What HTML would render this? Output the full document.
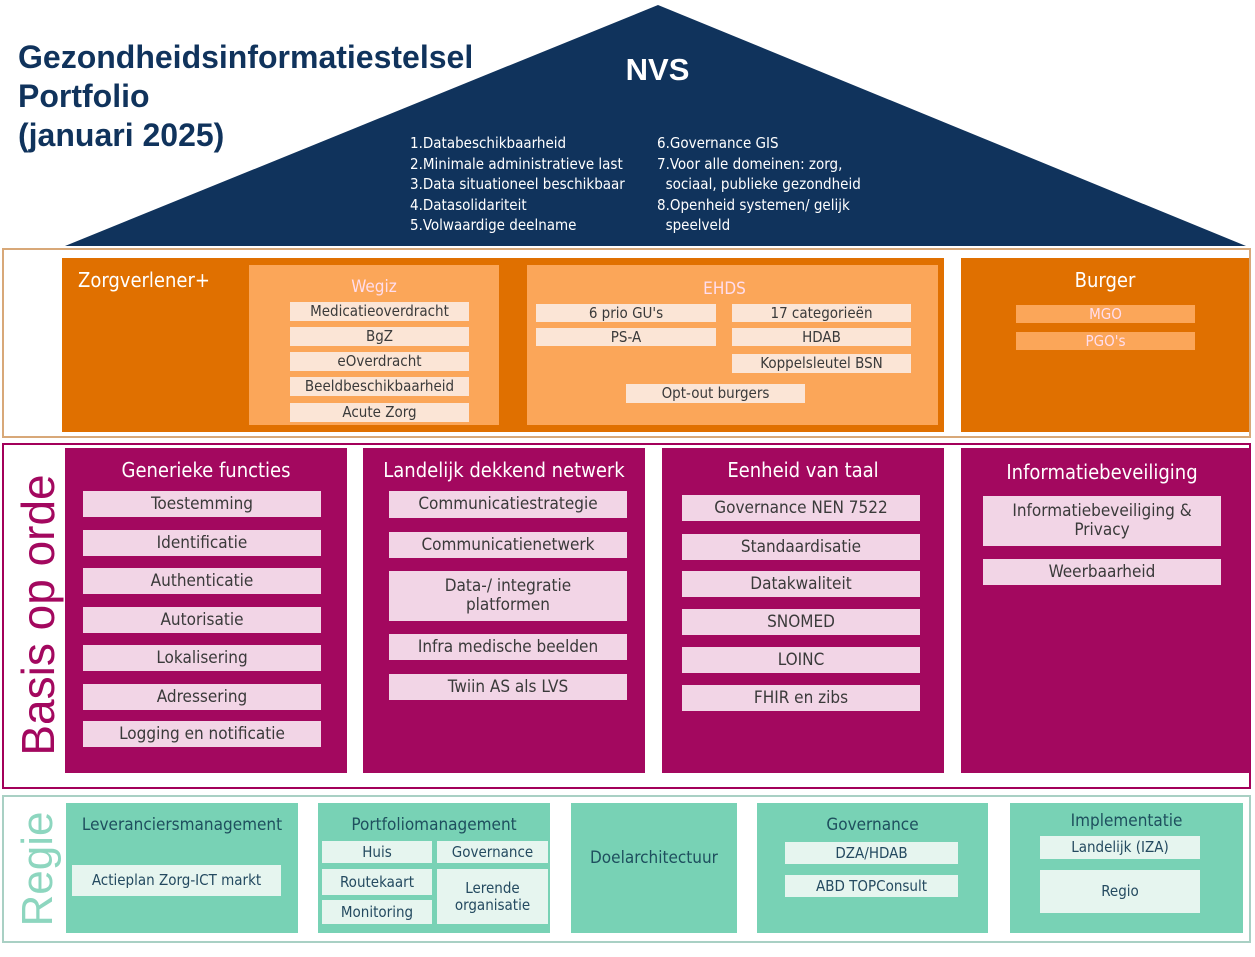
<!DOCTYPE html>
<html><head><meta charset="utf-8"><style>
body{margin:0;width:1255px;height:957px;background:#fff;position:relative;overflow:hidden;font-family:"DejaVu Sans Condensed","Liberation Sans Narrow","Liberation Sans",sans-serif;}
.a{position:absolute;box-sizing:border-box}
.c{display:flex;align-items:center;justify-content:center;text-align:center;line-height:1.1}
.oi{background:#fbe5d6;color:#3a3a3a;font-size:15px}
.mi{background:#f2d5e6;color:#3a3a3a;font-size:17px}
.ti{background:#e6f5ef;color:#244a60;font-size:15px}
.mh{color:#fff;font-size:20px;text-align:center;width:100%;top:10px}
.th{color:#1e4f5e;font-size:17px;text-align:center;width:100%}
</style></head><body>
<svg class="a" style="left:0;top:0" width="1255" height="260"><polygon points="658,5 65,246 1246,246" fill="#10335c"/></svg>
<div class="a" style="left:18px;top:38px;color:#10335c;font:bold 32px/39px 'Liberation Sans',sans-serif">Gezondheidsinformatiestelsel<br>Portfolio<br>(januari 2025)</div>
<div class="a" style="left:600px;top:52px;width:115px;text-align:center;color:#fff;font:bold 31px 'Liberation Sans',sans-serif">NVS</div>
<div class="a" style="left:410px;top:133px;color:#fff;font-size:15px;line-height:20.5px">1.Databeschikbaarheid<br>2.Minimale administratieve last<br>3.Data situationeel beschikbaar<br>4.Datasolidariteit<br>5.Volwaardige deelname</div>
<div class="a" style="left:657px;top:133px;color:#fff;font-size:15px;line-height:20.5px">6.Governance GIS<br>7.Voor alle domeinen: zorg,<br>&nbsp;&nbsp;sociaal, publieke gezondheid<br>8.Openheid systemen/ gelijk<br>&nbsp;&nbsp;speelveld</div>

<div class="a" style="left:2px;top:248px;width:1249px;height:190px;border:2px solid #d8a878"></div>
<div class="a" style="left:62px;top:258px;width:882px;height:174px;background:#e07000"></div>
<div class="a" style="left:78px;top:268px;color:#fff;font-size:20px">Zorgverlener+</div>
<div class="a" style="left:249px;top:265px;width:250px;height:160px;background:#fba659"></div>
<div class="a" style="left:249px;top:277px;width:250px;text-align:center;color:#fde;font-size:17px">Wegiz</div>
<div class="a c oi" style="left:290px;top:302px;width:179px;height:19px">Medicatieoverdracht</div>
<div class="a c oi" style="left:290px;top:327px;width:179px;height:19px">BgZ</div>
<div class="a c oi" style="left:290px;top:352px;width:179px;height:19px">eOverdracht</div>
<div class="a c oi" style="left:290px;top:377px;width:179px;height:19px">Beeldbeschikbaarheid</div>
<div class="a c oi" style="left:290px;top:403px;width:179px;height:19px">Acute Zorg</div>
<div class="a" style="left:527px;top:265px;width:411px;height:160px;background:#fba659"></div>
<div class="a" style="left:527px;top:279px;width:395px;text-align:center;color:#fde;font-size:17px">EHDS</div>
<div class="a c oi" style="left:536px;top:304px;width:180px;height:18px">6 prio GU's</div>
<div class="a c oi" style="left:536px;top:328px;width:180px;height:18px">PS-A</div>
<div class="a c oi" style="left:732px;top:304px;width:179px;height:18px">17 categorieën</div>
<div class="a c oi" style="left:732px;top:328px;width:179px;height:18px">HDAB</div>
<div class="a c oi" style="left:732px;top:354px;width:179px;height:19px">Koppelsleutel BSN</div>
<div class="a c oi" style="left:626px;top:384px;width:179px;height:19px">Opt-out burgers</div>
<div class="a" style="left:961px;top:258px;width:288px;height:174px;background:#e07000"></div>
<div class="a" style="left:961px;top:268px;width:288px;text-align:center;color:#fff;font-size:20px">Burger</div>
<div class="a c" style="left:1016px;top:305px;width:179px;height:18px;background:#fba659;color:#fde;font-size:15px">MGO</div>
<div class="a c" style="left:1016px;top:332px;width:179px;height:18px;background:#fba659;color:#fde;font-size:15px">PGO's</div>

<div class="a" style="left:2px;top:443px;width:1249px;height:346px;border:2px solid #a3005a"></div>
<div class="a" style="left:38px;top:615px;transform:translate(-50%,-50%) rotate(-90deg);color:#a3085f;font:46px 'Liberation Sans',sans-serif;white-space:nowrap">Basis op orde</div>
<div class="a" style="left:65px;top:448px;width:282px;height:325px;background:#a3085f"></div>
<div class="a" style="left:363px;top:448px;width:282px;height:325px;background:#a3085f"></div>
<div class="a" style="left:662px;top:448px;width:282px;height:325px;background:#a3085f"></div>
<div class="a" style="left:961px;top:448px;width:289px;height:325px;background:#a3085f"></div>
<div class="a mh" style="left:65px;top:458px;width:282px">Generieke functies</div>
<div class="a mh" style="left:363px;top:458px;width:282px">Landelijk dekkend netwerk</div>
<div class="a mh" style="left:662px;top:458px;width:282px">Eenheid van taal</div>
<div class="a mh" style="left:961px;top:460px;width:282px">Informatiebeveiliging</div>
<div class="a c mi" style="left:83px;top:491px;width:238px;height:26px">Toestemming</div>
<div class="a c mi" style="left:83px;top:530px;width:238px;height:26px">Identificatie</div>
<div class="a c mi" style="left:83px;top:568px;width:238px;height:26px">Authenticatie</div>
<div class="a c mi" style="left:83px;top:607px;width:238px;height:26px">Autorisatie</div>
<div class="a c mi" style="left:83px;top:645px;width:238px;height:26px">Lokalisering</div>
<div class="a c mi" style="left:83px;top:684px;width:238px;height:26px">Adressering</div>
<div class="a c mi" style="left:83px;top:721px;width:238px;height:26px">Logging en notificatie</div>
<div class="a c mi" style="left:389px;top:491px;width:238px;height:27px">Communicatiestrategie</div>
<div class="a c mi" style="left:389px;top:532px;width:238px;height:26px">Communicatienetwerk</div>
<div class="a c mi" style="left:389px;top:571px;width:238px;height:50px">Data-/ integratie<br>platformen</div>
<div class="a c mi" style="left:389px;top:634px;width:238px;height:26px">Infra medische beelden</div>
<div class="a c mi" style="left:389px;top:674px;width:238px;height:26px">Twiin AS als LVS</div>
<div class="a c mi" style="left:682px;top:495px;width:238px;height:26px">Governance NEN 7522</div>
<div class="a c mi" style="left:682px;top:534px;width:238px;height:26px">Standaardisatie</div>
<div class="a c mi" style="left:682px;top:571px;width:238px;height:26px">Datakwaliteit</div>
<div class="a c mi" style="left:682px;top:609px;width:238px;height:26px">SNOMED</div>
<div class="a c mi" style="left:682px;top:647px;width:238px;height:26px">LOINC</div>
<div class="a c mi" style="left:682px;top:685px;width:238px;height:26px">FHIR en zibs</div>
<div class="a c mi" style="left:983px;top:496px;width:238px;height:50px">Informatiebeveiliging &amp;<br>Privacy</div>
<div class="a c mi" style="left:983px;top:559px;width:238px;height:26px">Weerbaarheid</div>

<div class="a" style="left:2px;top:795px;width:1249px;height:148px;border:2px solid #a9d0c4"></div>
<div class="a" style="left:38px;top:869px;transform:translate(-50%,-50%) rotate(-90deg);color:#8dd6bf;font:44px 'Liberation Sans',sans-serif;white-space:nowrap">Regie</div>
<div class="a" style="left:66px;top:803px;width:232px;height:130px;background:#78d2b5"></div>
<div class="a" style="left:318px;top:803px;width:232px;height:130px;background:#78d2b5"></div>
<div class="a" style="left:571px;top:803px;width:166px;height:130px;background:#78d2b5"></div>
<div class="a" style="left:757px;top:803px;width:231px;height:130px;background:#78d2b5"></div>
<div class="a" style="left:1010px;top:803px;width:233px;height:130px;background:#78d2b5"></div>
<div class="a th" style="left:66px;top:815px;width:232px">Leveranciersmanagement</div>
<div class="a c ti" style="left:72px;top:865px;width:209px;height:31px">Actieplan Zorg-ICT markt</div>
<div class="a th" style="left:318px;top:815px;width:232px">Portfoliomanagement</div>
<div class="a c ti" style="left:322px;top:841px;width:110px;height:22px">Huis</div>
<div class="a c ti" style="left:437px;top:841px;width:111px;height:22px">Governance</div>
<div class="a c ti" style="left:322px;top:869px;width:110px;height:26px">Routekaart</div>
<div class="a c ti" style="left:437px;top:869px;width:111px;height:55px">Lerende<br>organisatie</div>
<div class="a c ti" style="left:322px;top:900px;width:110px;height:24px">Monitoring</div>
<div class="a c" style="left:571px;top:803px;width:166px;height:110px;color:#1e4f5e;font-size:17px">Doelarchitectuur</div>
<div class="a th" style="left:757px;top:815px;width:231px">Governance</div>
<div class="a c ti" style="left:785px;top:842px;width:173px;height:22px">DZA/HDAB</div>
<div class="a c ti" style="left:785px;top:875px;width:173px;height:22px">ABD TOPConsult</div>
<div class="a th" style="left:1010px;top:811px;width:233px">Implementatie</div>
<div class="a c ti" style="left:1040px;top:836px;width:160px;height:23px">Landelijk (IZA)</div>
<div class="a c ti" style="left:1040px;top:870px;width:160px;height:43px">Regio</div>
</body></html>
